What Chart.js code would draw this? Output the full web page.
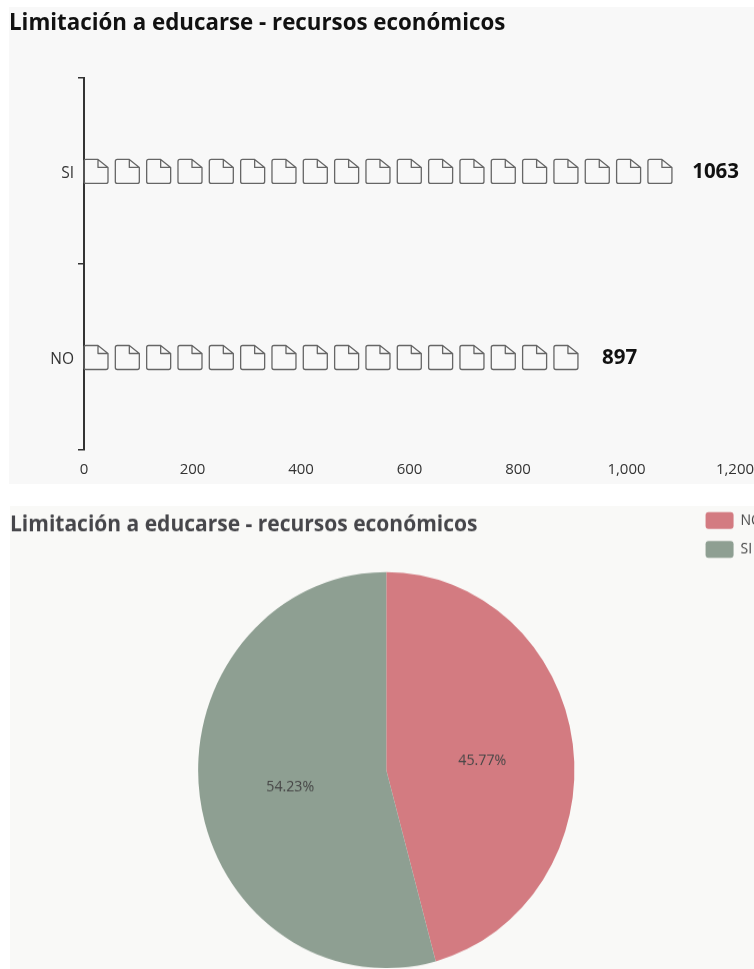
<!DOCTYPE html>
<html><head><meta charset="utf-8">
<script src="https://cdn.jsdelivr.net/npm/chart.js@4"></script>
<style>
html,body{margin:0;padding:0;width:754px;height:969px;overflow:hidden;background:#fff}
#p1{position:absolute;left:9px;top:7px;width:745px;height:477px;background:#f8f8f8;overflow:hidden}
#p2{position:absolute;left:10px;top:506px;width:744px;height:463px;background:#f9f9f7;overflow:hidden}
#w2{position:absolute;left:0;top:0;transform:scaleY(1.053);transform-origin:0 0}
canvas{display:block}
</style></head><body>
<div id="p1"><canvas id="c1" width="770" height="477"></canvas></div>
<div id="p2"><div id="w2"><canvas id="c2" width="762" height="439"></canvas></div></div>
<script>
const titleText = 'Limitación a educarse - recursos económicos';
const barCategories = ['SI', 'NO'];
const barValues = [1063, 897];
const pieCategories = ['NO', 'SI'];
const pieValues = [897, 1063];
const pieColors = ['#d37b81', '#8e9f92'];
const xTickMax = 1200;
const xTickStep = 200;
const symbolUnit = 57.75;

const FONT = '"Open Sans"';
const INK = '#333';

const docSymbols = {
  id: 'docSymbols',
  afterDatasetsDraw(chart) {
    const ctx = chart.ctx, xs = chart.scales.x;
    const meta = chart.getDatasetMeta(0);
    meta.data.forEach((bar, i) => {
      const v = barValues[i];
      const n = Math.ceil(v / symbolUnit);
      const S = 24, F = 10, r = 2;
      ctx.save();
      ctx.strokeStyle = '#666';
      ctx.lineWidth = 1.3;
      ctx.lineJoin = 'round';
      for (let k = 0; k < n; k++) {
        const x0 = xs.getPixelForValue(k * symbolUnit), y0 = bar.y - S / 2 + 0.5;
        ctx.beginPath();
        ctx.moveTo(x0 + r, y0);
        ctx.lineTo(x0 + S - F, y0);
        ctx.lineTo(x0 + S, y0 + F - 2);
        ctx.lineTo(x0 + S, y0 + S - r);
        ctx.quadraticCurveTo(x0 + S, y0 + S, x0 + S - r, y0 + S);
        ctx.lineTo(x0 + r, y0 + S);
        ctx.quadraticCurveTo(x0, y0 + S, x0, y0 + S - r);
        ctx.lineTo(x0, y0 + r);
        ctx.quadraticCurveTo(x0, y0, x0 + r, y0);
        ctx.moveTo(x0 + S - F, y0);
        ctx.lineTo(x0 + S - F, y0 + F - 2);
        ctx.lineTo(x0 + S, y0 + F - 2);
        ctx.stroke();
      }
      ctx.fillStyle = '#111';
      ctx.font = 'bold 20.5px ' + FONT;
      ctx.textBaseline = 'middle';
      ctx.textAlign = 'left';
      ctx.fillText(String(v), xs.getPixelForValue(v) + 31.5, bar.y + 1);
      ctx.restore();
    });
  }
};

new Chart(document.getElementById('c1'), {
  type: 'bar',
  data: { labels: barCategories, datasets: [{ data: barValues, backgroundColor: 'rgba(0,0,0,0)', borderWidth: 0 }] },
  options: {
    indexAxis: 'y', responsive: false, animation: false,
    layout: { padding: { right: 44 } },
    plugins: {
      legend: { display: false }, tooltip: { enabled: false },
      title: { display: true, text: titleText, align: 'start', color: '#111',
        font: { family: FONT, size: 22.3, weight: 'bold' }, padding: { top: 3.6, bottom: 40.6 } }
    },
    scales: {
      x: { min: 0, max: xTickMax, ticks: { stepSize: xTickStep, color: INK, padding: 3, font: { family: FONT, size: 15 }, maxRotation: 0 },
        grid: { display: false }, border: { display: false },
        afterFit(s) { s.height = 34; } },
      y: { ticks: { color: INK, padding: 4, labelOffset: 2.5, font: { family: FONT, size: 15.5 } },
        grid: { offset: true, drawOnChartArea: false, drawTicks: true, tickLength: 6, color: '#333', lineWidth: 1.5 },
        border: { display: true, color: '#333', width: 2 },
        afterFit(s) { s.width = 75; } }
    }
  },
  plugins: [docSymbols]
});

const pieLabels = {
  id: 'pieLabels',
  afterLayout(chart) { chart.titleBlock.left = 0; },
  afterDatasetsDraw(chart) {
    const ctx = chart.ctx, total = pieValues.reduce((a, b) => a + b, 0);
    ctx.save();
    ctx.fillStyle = '#464646';
    ctx.font = '14.2px ' + FONT;
    ctx.textAlign = 'center';
    ctx.textBaseline = 'middle';
    chart.getDatasetMeta(0).data.forEach((arc, i) => {
      const p = arc.getCenterPoint();
      const x = arc.x + (p.x - arc.x) * 1.03;
      const y = arc.y + (p.y - arc.y) * 1.03 + 3.5;
      ctx.fillText((pieValues[i] / total * 100).toFixed(2) + '%', x, y);
    });
    ctx.restore();
  }
};

new Chart(document.getElementById('c2'), {
  type: 'pie',
  data: { labels: pieCategories, datasets: [{ data: pieValues, backgroundColor: pieColors, borderWidth: 0 }] },
  options: {
    responsive: false, animation: false,
    layout: { padding: { left: 68.5, top: -5.8 } },
    plugins: {
      tooltip: { enabled: false },
      title: { display: true, text: titleText, align: 'start', color: '#46464a',
        font: { family: FONT, size: 21, weight: 'bold' }, padding: { top: 10.8, bottom: 32.5 } },
      legend: { position: 'right', align: 'start',
        labels: { boxWidth: 28, boxHeight: 16, padding: 11.5, color: '#464646', font: { family: FONT, size: 14 },
          generateLabels(chart) {
            return Chart.overrides.pie.plugins.legend.labels.generateLabels(chart).map(l => ({ ...l, borderRadius: 3, lineWidth: 0 }));
          } } }
    }
  },
  plugins: [pieLabels]
});
</script>
</body></html>
